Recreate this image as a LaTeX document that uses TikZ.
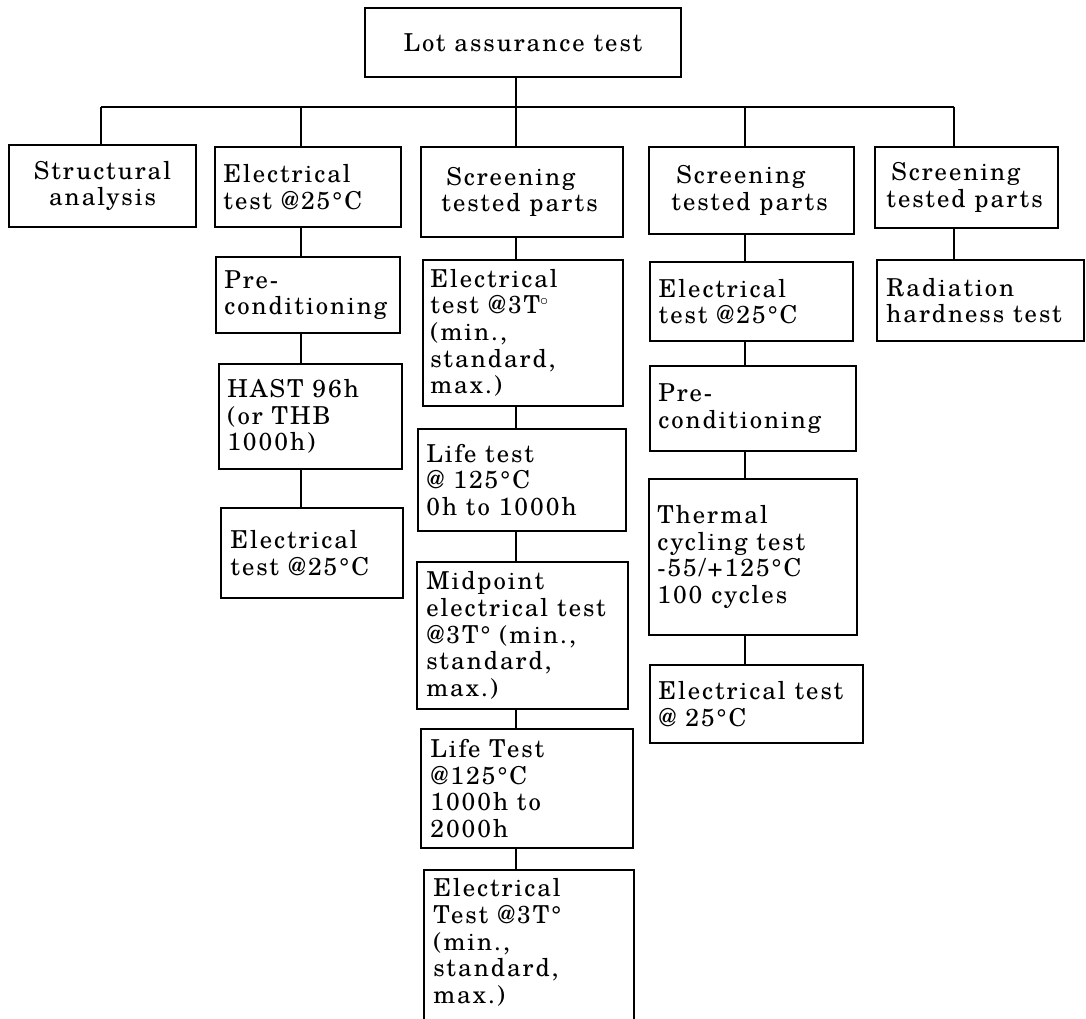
\documentclass[tikz,border=0pt]{standalone}
\usepackage{fontspec}
\setmainfont{TeX Gyre Schola}[LetterSpace=8]
\tikzset{
  box/.style={draw, line width=1.4pt, inner sep=0pt},
  lbl/.style={inner sep=0pt, align=left, font=\fontsize{18.5}{20}\selectfont},
  clbl/.style={lbl, align=center},
  conn/.style={line width=1.8pt},
}
\newcommand\mkbox[5]{%
  \pgfmathsetmacro\bw{(#4-#2)*0.75}%
  \pgfmathsetmacro\bh{(#5-#3)*0.75}%
  \node[box, minimum width=\bw pt, minimum height=\bh pt] (#1) at ({(#2+#4)/2},{(#3+#5)/2}) {};}
\begin{document}
\begin{tikzpicture}[x=0.75pt,y=-0.75pt]
\useasboundingbox (0,0) rectangle (1086,1019);
\clip (0,0) rectangle (1086,1019);
% boxes
\mkbox{root}{365}{8}{681}{77}
\mkbox{s1}{9}{145}{196}{227}
\mkbox{e1}{215}{147}{401}{227}
\mkbox{e2}{216}{257}{400}{333}
\mkbox{e3}{219}{364}{402}{469}
\mkbox{e4}{221}{508}{403}{598}
\mkbox{c1}{421}{147}{623}{237}
\mkbox{c2}{423}{260}{623}{406}
\mkbox{c3}{418}{429}{626}{531}
\mkbox{c4}{417}{562}{628}{709}
\mkbox{c5}{421}{729}{633}{848}
\mkbox{c6}{424}{870}{634}{1045}
\mkbox{d1}{649}{147}{854}{234}
\mkbox{d2}{650}{262}{853}{341}
\mkbox{d3}{650}{366}{856}{451}
\mkbox{d4}{649}{479}{857}{635}
\mkbox{d5}{650}{665}{863}{743}
\mkbox{f1}{875}{147}{1058}{228}
\mkbox{f2}{877}{260}{1084}{341}
% labels
\node[clbl] (troot) at (root.center) {Lot assurance test};
\node[clbl] (ts1) at (s1.center) {Structural\\analysis};
\node[lbl, anchor=west] (te1) at ([xshift=6.75pt]e1.west) {Electrical\\test @25°C};
\node[lbl, anchor=west] (te2) at ([xshift=6.75pt]e2.west) {Pre-\\conditioning};
\node[lbl, anchor=west] (te3) at ([xshift=6.75pt]e3.west) {HAST 96h\\(or THB\\1000h)};
\node[lbl, anchor=west] (te4) at ([xshift=7.5pt]e4.west) {Electrical\\test @25°C};
\node[lbl, anchor=west] (tc1) at ([xshift=15.75pt]c1.west) {\hspace*{3.75pt}Screening\\tested parts};
\node[lbl, anchor=west] (tc2) at ([xshift=6pt]c2.west) {Electrical\\test @3T$^{\circ}$\\(min.,\\standard,\\max.)};
\node[lbl, anchor=west] (tc3) at ([xshift=6.75pt]c3.west) {Life test\\@ 125°C\\0h to 1000h};
\node[lbl, anchor=west] (tc4) at ([xshift=7.5pt]c4.west) {Midpoint\\electrical test\\@3T° (min.,\\standard,\\max.)};
\node[lbl, anchor=west] (tc5) at ([xshift=7.5pt]c5.west) {Life Test\\@125°C\\1000h to\\2000h};
\node[lbl, anchor=north west] (tc6) at ([xshift=7.5pt,yshift=-7pt]c6.north west) {Electrical\\Test @3T°\\(min.,\\standard,\\max.)};
\node[lbl, anchor=west] (td1) at ([xshift=17.25pt]d1.west) {\hspace*{3.75pt}Screening\\tested parts};
\node[lbl, anchor=west] (td2) at ([xshift=7pt]d2.west) {Electrical\\test @25°C};
\node[lbl, anchor=west] (td3) at ([xshift=6.75pt]d3.west) {Pre-\\conditioning};
\node[lbl, anchor=west] (td4) at ([xshift=6.75pt]d4.west) {Thermal\\cycling test\\-55/+125°C\\100 cycles};
\node[lbl, anchor=west] (td5) at ([xshift=6.75pt]d5.west) {Electrical test\\@ 25°C};
\node[lbl, anchor=west] (tf1) at ([xshift=9pt]f1.west) {\hspace*{3.75pt}Screening\\tested parts};
\node[lbl, anchor=west] (tf2) at ([xshift=7.5pt]f2.west) {Radiation\\hardness test};
% connectors
\coordinate (bar) at (516,107);
\coordinate (x1) at (101,107);
\coordinate (x2) at (301,107);
\coordinate (x3) at (516,107);
\coordinate (x4) at (745,107);
\coordinate (x5) at (954,107);
\draw[conn] (x1) -- (x5);
\draw[conn] (root.south -| bar) -- (bar);
\draw[conn] (x1) -- (x1 |- s1.north);
\draw[conn] (x2) -- (x2 |- e1.north);
\draw[conn] (x3) -- (x3 |- c1.north);
\draw[conn] (x4) -- (x4 |- d1.north);
\draw[conn] (x5) -- (x5 |- f1.north);
\draw[conn] (x2 |- e1.south) -- (x2 |- e2.north);
\draw[conn] (x2 |- e2.south) -- (x2 |- e3.north);
\draw[conn] (x2 |- e3.south) -- (x2 |- e4.north);
\draw[conn] (x3 |- c1.south) -- (x3 |- c2.north);
\draw[conn] (x3 |- c2.south) -- (x3 |- c3.north);
\draw[conn] (x3 |- c3.south) -- (x3 |- c4.north);
\draw[conn] (x3 |- c4.south) -- (x3 |- c5.north);
\draw[conn] (x3 |- c5.south) -- (x3 |- c6.north);
\draw[conn] (x4 |- d1.south) -- (x4 |- d2.north);
\draw[conn] (x4 |- d2.south) -- (x4 |- d3.north);
\draw[conn] (x4 |- d3.south) -- (x4 |- d4.north);
\draw[conn] (x4 |- d4.south) -- (x4 |- d5.north);
\draw[conn] (x5 |- f1.south) -- (x5 |- f2.north);
\end{tikzpicture}
\end{document}
